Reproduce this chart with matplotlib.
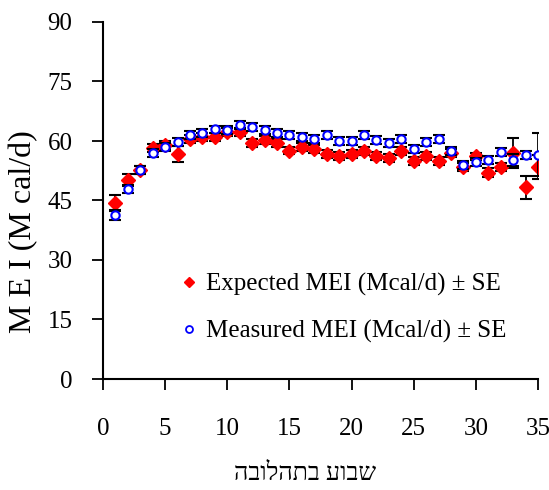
import matplotlib
matplotlib.use("Agg")
import matplotlib.pyplot as plt
from matplotlib.lines import Line2D

plt.rcParams['font.family'] = ['Liberation Serif', 'DejaVu Serif', 'DejaVu Sans']

weeks = list(range(1, 36))
expected = [44.4, 50.2, 52.7, 58.2, 59.0, 56.7, 60.4, 61.1, 61.0, 62.3,
            62.3, 59.6, 60.3, 59.4, 57.6, 58.4, 58.0, 56.7, 56.3, 56.7,
            57.5, 56.3, 55.8, 57.5, 55.0, 56.2, 55.0, 56.9, 53.5, 56.1,
            52.0, 53.5, 57.0, 48.3, 53.5]
expected_se = [2.0, 1.5, 1.0, 1.0, 1.0, 2.0, 1.0, 1.0, 1.0, 1.0,
               1.0, 1.0, 1.0, 1.0, 1.0, 1.0, 1.0, 1.0, 1.0, 1.0,
               1.0, 1.0, 1.0, 1.0, 1.0, 1.0, 1.0, 1.0, 1.0, 1.0,
               1.2, 1.0, 3.7, 3.0, 3.0]
measured = [41.3, 47.8, 52.7, 57.0, 58.6, 59.7, 61.4, 62.0, 62.9, 62.8,
            64.0, 63.6, 62.7, 62.1, 61.4, 61.1, 60.5, 61.5, 59.9, 59.9,
            61.4, 60.2, 59.4, 60.4, 58.1, 59.8, 60.4, 57.5, 53.9, 54.8,
            55.2, 57.3, 55.2, 56.5, 56.5]
measured_se = [1.2, 1.0, 1.0, 1.0, 1.0, 1.0, 1.0, 1.0, 1.0, 1.0,
               1.0, 1.0, 1.0, 1.0, 1.0, 1.0, 1.0, 1.0, 1.0, 1.0,
               1.0, 1.0, 1.0, 1.0, 1.0, 1.0, 1.0, 1.0, 1.0, 1.0,
               1.0, 1.0, 1.4, 1.0, 5.4]
xticks = [0, 5, 10, 15, 20, 25, 30, 35]
yticks = [0, 15, 30, 45, 60, 75, 90]
label_expected = "Expected MEI (Mcal/d) ± SE"
label_measured = "Measured MEI (Mcal/d) ± SE"
ylabel = "M E I (M cal/d)"
xlabel = "שבוע בתהלובה"

W, H = 549, 490
fig = plt.figure(figsize=(W / 100, H / 100), dpi=100)
ax = fig.add_axes([103 / W, 1 - 379 / H, (538 - 103) / W, (379 - 22) / H])

ax.errorbar(weeks, expected, yerr=expected_se, fmt='D', color='red',
            ms=7, mec='red', mfc='red', ecolor='black', elinewidth=1.3,
            capsize=4, capthick=1.5, zorder=3)
ax.errorbar(weeks, measured, yerr=measured_se, fmt='o', color='blue',
            ms=6, mec='blue', mfc='white', mew=1.5, ecolor='black',
            elinewidth=1.3, capsize=4, capthick=1.5, zorder=4)

ax.set_xlim(0, 35)
ax.set_ylim(0, 90)
ax.set_xticks(xticks)
ax.set_yticks(yticks)
ax.spines['top'].set_visible(False)
ax.spines['right'].set_visible(False)
for s in ('left', 'bottom'):
    ax.spines[s].set_linewidth(1.5)
ax.tick_params(axis='both', direction='out', length=8, width=1.3, labelsize=18)
ax.tick_params(axis='x', pad=20)
ax.tick_params(axis='y', pad=14)

fig.text(24 / W, 1 - 232 / H, ylabel, rotation=90, ha='center', va='center',
         fontsize=23)
fig.text(305 / W, 1 - 474 / H, xlabel[::-1], ha='center', va='center',
         fontsize=18)

handles = [Line2D([], [], ls='none', marker='D', ms=5, color='red'),
           Line2D([], [], ls='none', marker='o', ms=5, mec='blue', mfc='white', mew=1.3)]
ax.legend(handles, [label_expected, label_measured], loc='center left',
          bbox_to_anchor=(170 / W, 1 - 308 / H), bbox_transform=fig.transFigure,
          frameon=False, fontsize=18, handlelength=0.5, handletextpad=0.45,
          labelspacing=0.95, borderpad=0)

fig.savefig("out.png", dpi=100)
